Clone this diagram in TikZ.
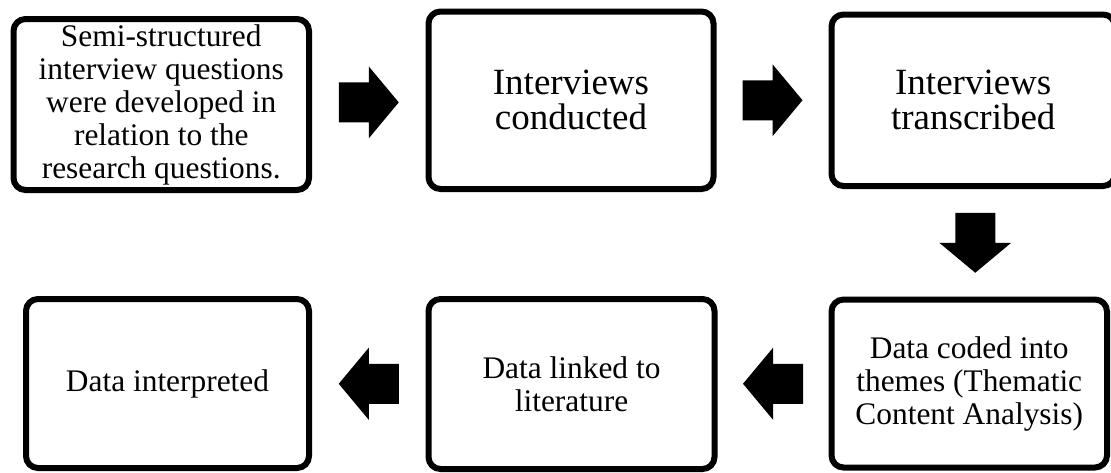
\documentclass[tikz,border=0pt]{standalone}
\usepackage{fontspec}
\setmainfont{Liberation Serif}
\usetikzlibrary{calc}

\tikzset{
  stagebox/.style={draw=black, line width=6pt, rounded corners=12pt, fill=white,
    align=center, inner sep=0pt, font=\fontsize{31.4}{33}\selectfont},
  bigtext/.style={font=\fontsize{37}{35}\selectfont},
  blockarrow/.pic={
    \fill[black] (-30,-20) -- (0,-20) -- (0,-36) -- (30,0) -- (0,36) -- (0,20) -- (-30,20) -- cycle;
  }
}

\begin{document}
\begin{tikzpicture}[x=1pt,y=-1pt]
  \useasboundingbox (0,0) rectangle (1111,472);

  % top row
  \node[stagebox, minimum width=295.5pt, minimum height=171pt] (b1) at (161.25,104.5)
    {Semi-structured\\interview questions\\were developed in\\relation to the\\research questions.};
  \node[stagebox, bigtext, minimum width=285pt, minimum height=177.5pt] (b2) at (571,100.25)
    {Interviews\\conducted};
  \node[stagebox, bigtext, minimum width=283.5pt, minimum height=171.5pt] (b3) at (973.25,100.25)
    {Interviews\\transcribed};

  % bottom row
  \node[stagebox, minimum width=283pt, minimum height=169pt] (b4) at (167.5,383.5)
    {Data interpreted};
  \node[stagebox, minimum width=286pt, minimum height=170pt] (b5) at (571.5,384)
    {Data linked to\\literature};
  \node[stagebox, minimum width=275.5pt, minimum height=168pt] (b6) at (969.25,383.5)
    {Data coded into\\themes (Thematic\\Content Analysis)};

  % flow arrows
  \pic at ($(b1.east)!0.5!(b2.west)$) {blockarrow};
  \pic at ($(b2.east)!0.5!(b3.west)$) {blockarrow};
  \pic[rotate=-90] at ($(b3.south)!0.5!(b6.north)+(4,0)$) {blockarrow};
  \pic[rotate=180] at ($(b6.west)!0.5!(b5.east)$) {blockarrow};
  \pic[rotate=180] at ($(b5.west)!0.5!(b4.east)$) {blockarrow};
\end{tikzpicture}
\end{document}
